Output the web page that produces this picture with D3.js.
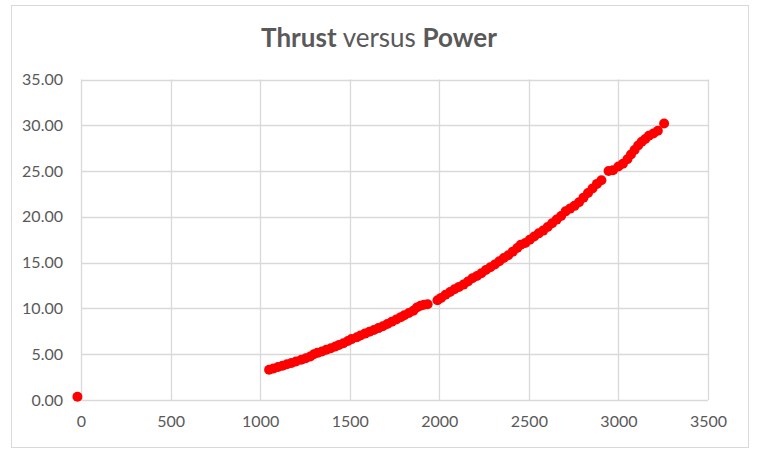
<!DOCTYPE html>
<html><head><meta charset="utf-8">
<script src="https://cdn.jsdelivr.net/npm/d3@7"></script>
<style>body{margin:0;background:#fff}svg{display:block}</style>
</head><body>
<svg id="c" width="757" height="450"></svg>
<script>
const power = [-20,1050,1075,1100,1125,1150,1175,1200,1230,1255,1280,1300,1320,1345,1370,1395,1420,1440,1465,1490,1510,1540,1560,1585,1610,1635,1660,1685,1710,1735,1760,1785,1805,1830,1855,1875,1895,1915,1935,1990,2010,2035,2060,2085,2110,2135,2160,2185,2210,2235,2260,2285,2310,2335,2360,2385,2410,2435,2455,2480,2505,2530,2555,2580,2605,2630,2655,2680,2705,2730,2755,2780,2805,2830,2855,2880,2905,2945,2970,3000,3025,3050,3070,3090,3110,3130,3150,3170,3195,3220,3255];
const thrust = [0.35,3.3,3.45,3.6,3.75,3.9,4.05,4.2,4.4,4.55,4.75,5.0,5.15,5.3,5.5,5.65,5.85,6.0,6.2,6.45,6.65,6.85,7.05,7.25,7.45,7.65,7.85,8.05,8.3,8.55,8.8,9.05,9.25,9.5,9.75,10.1,10.3,10.4,10.45,10.9,11.15,11.5,11.8,12.1,12.35,12.6,12.95,13.3,13.55,13.85,14.2,14.5,14.8,15.15,15.5,15.8,16.2,16.6,16.95,17.15,17.5,17.85,18.2,18.5,18.9,19.3,19.7,20.1,20.6,20.9,21.2,21.6,22.1,22.6,23.1,23.6,24.0,25.0,25.1,25.5,25.8,26.3,26.8,27.3,27.8,28.2,28.5,28.85,29.1,29.4,30.2];
const xTicks = [0,500,1000,1500,2000,2500,3000,3500];
const yTicks = [0,5,10,15,20,25,30,35];

const svg = d3.select("#c");
const font = "Lato, 'Open Sans', sans-serif";
svg.append("rect").attr("x",11.5).attr("y",5.5).attr("width",737).attr("height",442)
  .attr("fill","#fff").attr("stroke","#d9d9d9");

const x = d3.scaleLinear().domain([0,3500]).range([81,708]);
const y = d3.scaleLinear().domain([0,35]).range([400,79.5]);

const g = svg.append("g");
g.selectAll("line.h").data(yTicks).join("line")
  .attr("x1",x(0)).attr("x2",x(3500)).attr("y1",d=>Math.round(y(d))+0.5).attr("y2",d=>Math.round(y(d))+0.5)
  .attr("stroke","#d9d9d9").attr("stroke-width",1.3);
g.selectAll("line.v").data(xTicks).join("line")
  .attr("y1",y(0)).attr("y2",y(35)).attr("x1",d=>Math.round(x(d))+0.5).attr("x2",d=>Math.round(x(d))+0.5)
  .attr("stroke","#d9d9d9").attr("stroke-width",1.3);

const yAxis = svg.append("g").attr("transform","translate(81,0)")
  .call(d3.axisLeft(y).tickValues(yTicks).tickFormat(d3.format(".2f")).tickSize(0).tickPadding(18));
yAxis.select(".domain").remove();
yAxis.selectAll("text").attr("font-family",font).attr("font-size",16).attr("fill","#595959");

const xAxis = svg.append("g").attr("transform","translate(0,400)")
  .call(d3.axisBottom(x).tickValues(xTicks).tickFormat(d3.format("d")).tickSize(0).tickPadding(16));
xAxis.select(".domain").remove();
xAxis.selectAll("text").attr("font-family",font).attr("font-size",16).attr("fill","#595959");

svg.append("g").selectAll("circle").data(power.map((p,i)=>[p,thrust[i]])).join("circle")
  .attr("cx",d=>x(d[0])).attr("cy",d=>y(d[1])).attr("r",5).attr("fill","#ff0000");

const t = svg.append("text").attr("x",379).attr("y",47).attr("text-anchor","middle")
  .attr("font-family",font).attr("font-size",26).attr("fill","#595959");
t.append("tspan").attr("font-weight","bold").text("Thrust");
t.append("tspan").text(" versus ");
t.append("tspan").attr("font-weight","bold").text("Power");
</script>
</body></html>
